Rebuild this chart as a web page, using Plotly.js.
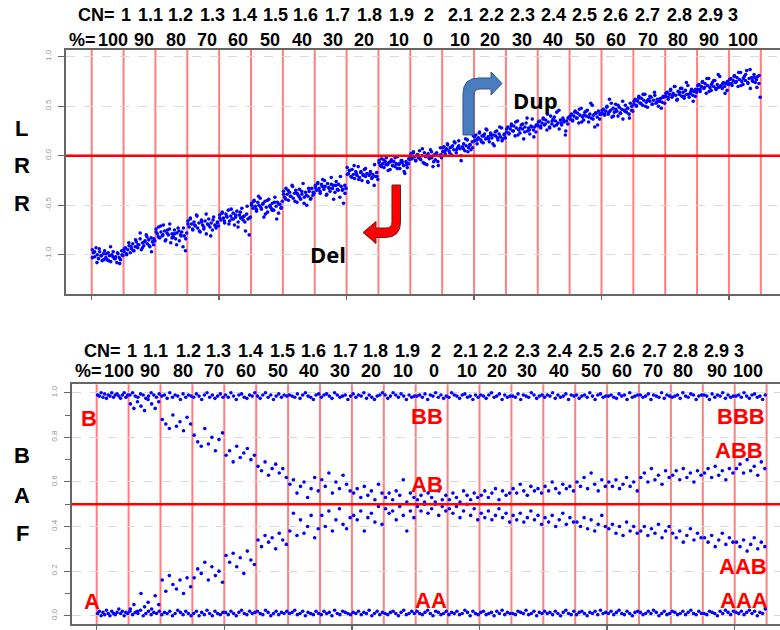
<!DOCTYPE html>
<html><head><meta charset="utf-8">
<script src="https://cdn.plot.ly/plotly-3.0.1.min.js"></script>
<style>body{margin:0;background:#fff}#chart{width:780px;height:630px}</style>
</head><body><div id="chart"></div>
<script>
// ---- labels ----
const cnLabels = ['1','1.1','1.2','1.3','1.4','1.5','1.6','1.7','1.8','1.9','2','2.1','2.2','2.3','2.4','2.5','2.6','2.7','2.8','2.9','3'];
const pctLabels = ['100','90','80','70','60','50','40','30','20','10','0','10','20','30','40','50','60','70','80','90','100'];

// ---- LRR values per copy-number segment (two interleaved probe sets) ----
const lrr = [
[-0.95,-0.98,-1.02,-0.93,-1.00,-1.04,-0.97,-1.01,-1.06,-0.99,-0.96,-1.03,-1.05,-0.98,-1.01,-1.07,-1.00,-0.97,-1.04,-1.02,-1.08,-0.99,-1.03,-1.05,-0.96,-1.01],
[-0.97,-0.93,-1.00,-0.95,-0.91,-0.98,-0.94,-0.89,-0.96,-0.92,-0.87,-0.93,-0.90,-0.84,-0.95,-0.88,-0.91,-0.86,-0.80,-0.89,-0.85,-0.92,-0.83,-0.87,-0.90,-0.86],
[-0.74,-0.79,-0.72,-0.83,-0.77,-0.81,-0.70,-0.76,-0.85,-0.78,-0.80,-0.74,-0.88,-0.79,-0.82,-0.75,-0.84,-0.78,-0.73,-0.86,-0.80,-0.77,-0.92,-0.81,-0.96,-0.78],
[-0.66,-0.72,-0.63,-0.69,-0.75,-0.67,-0.71,-0.60,-0.73,-0.68,-0.77,-0.65,-0.70,-0.74,-0.66,-0.79,-0.69,-0.64,-0.72,-0.68,-0.75,-0.62,-0.70,-0.73,-0.67,-0.71],
[-0.60,-0.65,-0.57,-0.63,-0.68,-0.59,-0.62,-0.55,-0.66,-0.61,-0.64,-0.58,-0.70,-0.62,-0.56,-0.67,-0.60,-0.63,-0.53,-0.65,-0.61,-0.76,-0.59,-0.64,-0.80,-0.62],
[-0.48,-0.53,-0.45,-0.51,-0.56,-0.47,-0.50,-0.43,-0.54,-0.49,-0.62,-0.46,-0.52,-0.57,-0.44,-0.50,-0.53,-0.48,-0.55,-0.42,-0.51,-0.47,-0.58,-0.49,-0.53,-0.46],
[-0.36,-0.42,-0.33,-0.39,-0.45,-0.37,-0.41,-0.30,-0.43,-0.38,-0.35,-0.47,-0.40,-0.34,-0.44,-0.39,-0.28,-0.42,-0.37,-0.50,-0.41,-0.36,-0.44,-0.33,-0.40,-0.38],
[-0.30,-0.35,-0.27,-0.33,-0.38,-0.29,-0.24,-0.34,-0.31,-0.40,-0.28,-0.32,-0.36,-0.22,-0.33,-0.30,-0.37,-0.26,-0.34,-0.29,-0.42,-0.31,-0.35,-0.48,-0.30,-0.33],
[-0.12,-0.18,-0.15,-0.21,-0.14,-0.19,-0.23,-0.16,-0.20,-0.11,-0.22,-0.17,-0.25,-0.19,-0.14,-0.21,-0.18,-0.27,-0.20,-0.16,-0.23,-0.19,-0.30,-0.21,-0.17,-0.24],
[-0.05,-0.10,-0.03,-0.08,-0.12,-0.06,-0.02,-0.09,-0.07,-0.14,-0.04,-0.10,-0.06,-0.11,-0.08,-0.01,-0.09,-0.13,-0.05,-0.07,-0.10,-0.18,-0.06,-0.12,-0.08,-0.04],
[0.02,-0.03,0.04,-0.01,-0.05,0.01,-0.02,0.05,-0.04,0.00,-0.07,0.03,-0.01,-0.09,0.02,-0.03,0.06,-0.02,-0.11,0.01,-0.04,0.03,-0.06,0.00,0.08,-0.02],
[0.04,0.09,0.02,0.07,0.11,0.05,0.08,0.01,0.10,0.06,0.13,0.03,0.08,0.15,0.07,-0.05,0.09,0.12,0.05,0.10,0.16,0.08,0.11,0.06,0.14,0.20],
[0.15,0.21,0.12,0.18,0.24,0.16,0.20,0.13,0.22,0.17,0.26,0.19,0.14,0.23,0.18,0.21,0.10,0.20,0.25,0.16,0.22,0.19,0.28,0.17,0.21,0.18],
[0.24,0.29,0.22,0.27,0.32,0.25,0.30,0.20,0.28,0.35,0.26,0.23,0.31,0.27,0.17,0.29,0.33,0.25,0.28,0.22,0.30,0.37,0.26,0.29,0.24,0.31],
[0.30,0.35,0.28,0.33,0.38,0.31,0.36,0.26,0.34,0.29,0.40,0.32,0.37,0.30,0.35,0.44,0.33,0.27,0.36,0.31,0.38,0.34,0.21,0.35,0.32,0.39],
[0.37,0.42,0.35,0.40,0.45,0.38,0.43,0.33,0.41,0.48,0.39,0.36,0.44,0.40,0.46,0.34,0.42,0.38,0.51,0.41,0.29,0.43,0.39,0.45,0.37,0.42],
[0.43,0.47,0.41,0.45,0.50,0.42,0.57,0.46,0.39,0.48,0.44,0.52,0.45,0.40,0.49,0.43,0.47,0.37,0.46,0.51,0.44,0.48,0.42,0.53,0.46,0.45],
[0.52,0.57,0.50,0.55,0.60,0.53,0.58,0.51,0.56,0.62,0.54,0.49,0.57,0.55,0.59,0.52,0.56,0.61,0.53,0.57,0.50,0.55,0.58,0.54,0.60,0.53],
[0.60,0.64,0.57,0.62,0.67,0.59,0.63,0.70,0.61,0.56,0.65,0.62,0.68,0.60,0.64,0.58,0.66,0.62,0.71,0.59,0.63,0.67,0.61,0.65,0.60,0.64],
[0.67,0.72,0.65,0.70,0.75,0.68,0.73,0.63,0.71,0.78,0.69,0.66,0.74,0.70,0.76,0.67,0.72,0.69,0.80,0.71,0.68,0.74,0.70,0.73,0.66,0.72],
[0.73,0.78,0.71,0.76,0.81,0.74,0.79,0.70,0.77,0.84,0.75,0.72,0.80,0.76,0.86,0.73,0.78,0.68,0.79,0.75,0.82,0.74,0.77,0.80,0.73,0.59]
];
const lrrMore = [
[-1.03,-0.97,-1.08,-0.94,-1.01,-1.05,-0.99,-1.06,-0.92,-1.02,-1.04,-0.98,-1.09,-1.00],
[-0.94,-0.99,-0.88,-0.92,-0.96,-0.85,-0.90,-0.78,-0.93,-0.87,-0.82,-0.91,-0.97,-0.84],
[-0.77,-0.82,-0.71,-0.80,-0.86,-0.75,-0.69,-0.83,-0.79,-0.90,-0.76,-0.81,-0.73,-0.84],
[-0.69,-0.64,-0.74,-0.70,-0.61,-0.76,-0.67,-0.72,-0.59,-0.70,-0.81,-0.65,-0.71,-0.68],
[-0.63,-0.58,-0.66,-0.61,-0.69,-0.54,-0.64,-0.60,-0.72,-0.57,-0.62,-0.67,-0.51,-0.63],
[-0.50,-0.46,-0.54,-0.41,-0.52,-0.48,-0.59,-0.45,-0.51,-0.55,-0.47,-0.64,-0.49,-0.52],
[-0.39,-0.44,-0.35,-0.41,-0.31,-0.46,-0.38,-0.42,-0.36,-0.48,-0.40,-0.33,-0.43,-0.37],
[-0.32,-0.28,-0.36,-0.31,-0.25,-0.39,-0.33,-0.29,-0.44,-0.30,-0.35,-0.21,-0.34,-0.38],
[-0.19,-0.15,-0.22,-0.10,-0.18,-0.24,-0.16,-0.20,-0.13,-0.26,-0.18,-0.22,-0.09,-0.21],
[-0.07,-0.11,-0.04,-0.09,-0.15,-0.06,-0.10,-0.02,-0.13,-0.08,-0.05,-0.16,-0.09,-0.03],
[-0.01,0.03,-0.05,0.01,-0.03,0.07,-0.08,0.00,-0.02,0.04,-0.06,0.02,-0.10,0.01],
[0.08,0.05,0.12,0.03,0.09,0.14,0.06,0.10,0.00,0.07,0.17,0.04,0.11,0.08],
[0.19,0.16,0.23,0.14,0.20,0.27,0.17,0.21,0.12,0.24,0.18,0.29,0.15,0.22],
[0.27,0.23,0.30,0.25,0.34,0.21,0.28,0.32,0.24,0.38,0.26,0.29,0.19,0.31],
[0.34,0.30,0.37,0.32,0.42,0.28,0.35,0.39,0.31,0.46,0.33,0.36,0.25,0.38],
[0.40,0.36,0.44,0.38,0.47,0.34,0.41,0.45,0.39,0.53,0.37,0.43,0.31,0.42],
[0.46,0.42,0.49,0.44,0.53,0.40,0.47,0.51,0.43,0.55,0.45,0.48,0.38,0.50],
[0.55,0.51,0.58,0.53,0.62,0.50,0.56,0.60,0.52,0.64,0.54,0.57,0.48,0.59],
[0.63,0.59,0.66,0.61,0.70,0.57,0.64,0.68,0.60,0.74,0.62,0.65,0.55,0.67],
[0.71,0.67,0.74,0.69,0.78,0.65,0.72,0.76,0.68,0.82,0.70,0.73,0.63,0.75],
[0.77,0.73,0.80,0.75,0.84,0.71,0.78,0.82,0.74,0.87,0.76,0.79,0.69,0.81]
];

// ---- BAF bands per segment ----
const bafTop = [
[.99,.985,1,.98,.995,.975,.99,.985,1,.98,.99,.995,.985,.975,.99,1,.98,.99],
[.99,1,.985,.98,.995,.99,.975,.985,1,.99,.98,.995],
[.985,.99,.975,1,.98,.99,.985,.97,.995,.98,.99,.985],
[.98,.995,.985,.97,.99,1,.98,.99,.975,.985,.995,.98],
[.99,.98,1,.985,.97,.99,.995,.98,.975,.99,.985,1],
[.985,.975,.99,1,.98,.99,.97,.985,.995,.98,.99,.985],
[.99,.985,.98,.995,.975,.99,1,.985,.98,.97,.99,.995],
[.98,.99,.995,.985,.975,1,.99,.98,.985,.99,.97,.985],
[.995,.98,.99,.985,1,.975,.99,.98,.97,.985,.99,1],
[.99,.975,.985,1,.99,.98,.995,.985,.97,.99,.98,.985],
[.985,.99,.98,.995,.97,.99,.985,1,.98,.99,.975,.985],
[.98,1,.99,.985,.975,.99,.995,.98,.985,.97,.99,.98],
[.99,.985,.975,.99,1,.98,.985,.995,.97,.99,.98,.985],
[.985,.98,.995,.97,.99,.985,.98,1,.99,.975,.985,.99],
[.98,.99,.985,1,.975,.99,.98,.985,.995,.97,.99,.985],
[.99,.975,.985,.99,.98,1,.985,.97,.99,.995,.98,.985],
[.985,.99,.98,.975,.995,.985,.99,.97,1,.98,.985,.99],
[.99,.98,.985,.995,.97,.99,.985,.98,1,.975,.99,.985],
[.98,.985,.99,.975,1,.985,.98,.995,.99,.97,.985,.99],
[.99,.985,.97,.995,.98,.99,.985,1,.975,.99,.98,.985],
[.985,.99,.98,1,.985,.975,.99,.995,.98,.985,.97,.99]
];
const bafHigh = [
[],
[.95,.93,.96,.94,.92,.97,.95,.93,.96],
[.88,.86,.84,.90,.85,.87,.83,.89,.86],
[.81,.78,.76,.84,.77,.80,.74,.79,.82],
[.72,.74,.69,.76,.71,.73,.75,.70,.72],
[.67,.65,.69,.63,.66,.68,.64,.66,.62],
[.59,.61,.55,.58,.60,.53,.57,.62,.56],
[.61,.58,.64,.55,.60,.57,.63,.59,.56],
[.55,.57,.53,.58,.54,.56,.52,.59,.55],
[.53,.55,.52,.56,.54,.61,.51,.55,.53],
[.52,.54,.51,.55,.53,.50,.56,.52,.54],
[.52,.55,.53,.51,.56,.54,.52,.55,.53],
[.54,.56,.53,.55,.57,.52,.56,.54,.55],
[.57,.55,.59,.56,.54,.58,.56,.57,.55],
[.58,.56,.60,.57,.55,.59,.57,.58,.56],
[.60,.58,.62,.57,.64,.59,.56,.61,.58],
[.60,.58,.61,.57,.59,.62,.58,.60,.56],
[.62,.64,.60,.66,.61,.63,.59,.65,.62],
[.63,.65,.61,.66,.62,.64,.60,.65,.63],
[.64,.66,.62,.67,.63,.65,.61,.66,.64],
[.66,.68,.64,.70,.65,.67,.63,.69,.66]
];
const bafLow = [
[],
[.03,.05,.02,.10,.04,.06,.03,.09,.05],
[.16,.11,.18,.14,.12,.16,.10,.17,.13],
[.17,.21,.19,.24,.16,.22,.18,.20,.15],
[.27,.24,.28,.22,.26,.19,.29,.25,.23],
[.34,.31,.36,.33,.35,.30,.37,.34,.32],
[.38,.46,.36,.43,.37,.40,.45,.35,.39],
[.45,.40,.47,.38,.43,.48,.41,.39,.44],
[.45,.43,.47,.38,.44,.46,.42,.49,.41],
[.48,.46,.47,.43,.49,.45,.38,.47,.44],
[.49,.47,.50,.46,.48,.51,.45,.49,.47],
[.48,.46,.49,.44,.47,.50,.45,.48,.43],
[.46,.44,.47,.43,.45,.48,.44,.46,.42],
[.45,.43,.46,.42,.44,.47,.43,.45,.41],
[.44,.42,.45,.40,.43,.46,.41,.44,.42],
[.42,.40,.44,.39,.43,.38,.41,.45,.40],
[.39,.41,.37,.40,.36,.42,.38,.40,.37],
[.38,.40,.36,.39,.37,.41,.35,.38,.40],
[.37,.35,.38,.33,.36,.39,.34,.37,.35],
[.35,.33,.36,.31,.34,.37,.32,.35,.33],
[.33,.31,.34,.29,.32,.35,.30,.33,.31]
];
const bafBottom = [
[.01,.02,0,.015,.005,.025,.01,0,.02,.01,.005,.015,.03,.01,.02,0,.015,.01],
[.02,.005,.015,.01,.025,0,.01,.02,.005,.015,.01,.02],
[.005,.015,.01,.02,0,.01,.025,.015,.005,.02,.01,0],
[.01,.02,0,.015,.005,.025,.01,0,.02,.01,.005,.015],
[.015,.005,.02,.01,0,.015,.025,.01,.005,.02,.01,.015],
[.02,.01,.005,.025,.015,0,.01,.02,.005,.015,.01,.02],
[.01,.015,.025,.005,.01,.02,0,.015,.01,.005,.02,.01],
[.005,.02,.01,.015,0,.025,.01,.005,.02,.015,.01,.005],
[.015,.01,.02,.005,.015,.01,.025,0,.01,.02,.005,.015],
[.01,.005,.015,.02,.01,0,.015,.025,.005,.01,.02,.01],
[.02,.01,.005,.015,.025,.01,0,.02,.015,.005,.01,.02],
[.005,.015,.01,.02,.005,.01,.025,.015,0,.02,.01,.005],
[.015,.02,.005,.01,.015,0,.02,.01,.025,.005,.015,.01],
[.01,.005,.02,.015,.01,.025,.005,.01,.02,0,.015,.01],
[.02,.01,.015,.005,.02,.01,0,.015,.025,.01,.005,.02],
[.005,.015,.02,.01,0,.015,.01,.02,.005,.025,.01,.015],
[.01,.02,.005,.015,.025,.01,.005,.02,.01,0,.015,.02],
[.015,.005,.01,.02,.01,.025,.015,0,.01,.02,.005,.01],
[.02,.015,.005,.01,.02,.005,.015,.025,.01,.005,.02,.01],
[.01,.005,.02,.015,.01,0,.02,.01,.025,.015,.005,.02],
[.015,.01,.02,.005,.015,.025,.01,.02,0,.015,.01,.03]
];

// ---- geometry helpers (pixels -> paper) ----
const W = 780, H = 630, ML = 66, MR = 0, MT = 50, MB = 6;
const PW = W - ML - MR, PH = H - MT - MB;
const px = x => (x - ML) / PW;
const py = y => (H - MB - y) / PH;

// header label pixel centres (layout only)
const cnPosTop = [125.8,150.8,180.8,212.5,244.2,275.8,305.8,337.5,369.2,401.7,429,460.8,491.7,522.5,553.3,584,615.8,647.5,679.2,710,733.3];
const pctPosTop = [112.5,144.2,175.8,206.7,238.3,270,301.7,333,363.7,399,428.3,460,490,521.7,553.3,585,615.8,647.5,678.3,709.2,743.3];
const cnPosBot = [131.7,155.8,188.3,218.3,250.8,282.5,313.3,345,375.8,407.5,436,465,495.8,527.5,559,590.8,622.5,654,685.8,716.7,739.2];
const pctPosBot = [118.5,150,182.5,214.2,245.8,277.5,309.2,340,370.8,403.3,434,466.7,496.7,526.7,559.2,590.8,621.5,652.5,683.3,716.7,748.3];

// place each segment's points along its own probe index
function spread(rows, shift) {
  const xs = [], ys = [];
  rows.forEach((r, k) => r.forEach((v, j) => { xs.push(k + (j + (shift || 0.5)) / r.length); ys.push(v); }));
  return [xs, ys];
}
const l1 = spread(lrr), l2 = spread(lrrMore, 0.3);
const lx = l1[0].concat(l2[0]), ly = l1[1].concat(l2[1]);
const bands = [bafTop, bafHigh, bafLow, bafBottom].map(r => spread(r));
const bx = [].concat(...bands.map(b => b[0]));
const by = [].concat(...bands.map(b => b[1]));

const dot = {color: '#0000ff', size: 3.6};
const traces = [
  {type: 'scatter', mode: 'markers', x: lx, y: ly, xaxis: 'x', yaxis: 'y', marker: dot, hoverinfo: 'skip'},
  {type: 'scatter', mode: 'markers', x: bx, y: by, xaxis: 'x2', yaxis: 'y2', marker: dot, hoverinfo: 'skip'}
];

const nSeg = cnLabels.length;
const shapes = [];
for (let k = 0; k <= nSeg; k++) {
  shapes.push({type: 'line', xref: 'x', yref: 'y domain', x0: k, x1: k, y0: 0, y1: 1, layer: 'below',
    line: {color: 'rgba(255,0,0,0.5)', width: 2}});
  shapes.push({type: 'line', xref: 'x2', yref: 'y2 domain', x0: k, x1: k, y0: 0, y1: 1, layer: 'below',
    line: {color: 'rgba(255,0,0,0.5)', width: 2}});
}
shapes.push({type: 'line', xref: 'x domain', yref: 'y', x0: 0, x1: 1, y0: 0, y1: 0, layer: 'above', line: {color: '#ff0000', width: 2.5}});
shapes.push({type: 'line', xref: 'x2 domain', yref: 'y2', x0: 0, x1: 1, y0: 0.5, y1: 0.5, layer: 'above', line: {color: '#ff0000', width: 2.5}});

function P(cmds) {
  return cmds.map(c => typeof c === 'string' ? c : px(c[0]).toFixed(5) + ',' + py(c[1]).toFixed(5)).join(' ');
}
// Dup bent arrow
shapes.push({type: 'path', xref: 'paper', yref: 'paper', layer: 'above',
  path: P(['M', [463, 135], 'L', [463, 94], 'Q', [463, 78], [479, 78], 'L', [491, 78], 'L', [491, 72], 'L', [502, 83.5],
           'L', [491, 95], 'L', [491, 89], 'L', [480, 89], 'Q', [474, 89], [474, 95], 'L', [474, 135], 'Z']),
  fillcolor: '#4a7cc0', line: {color: '#2f528f', width: 1}});
// Del bent arrow
shapes.push({type: 'path', xref: 'paper', yref: 'paper', layer: 'above',
  path: P(['M', [392, 185], 'L', [400.5, 185], 'L', [400.5, 222], 'Q', [400.5, 237.5], [385, 237.5], 'L', [376, 237.5], 'L', [376, 243.5],
           'L', [363, 232.5], 'L', [376, 221.5], 'L', [376, 228], 'L', [386, 228], 'Q', [392, 228], [392, 222], 'Z']),
  fillcolor: '#ff0000', line: {color: '#6b2020', width: 1}});

const FONT = 'Liberation Sans, Arial, sans-serif';
const ann = [];
function T(text, x, y, size, color, xanchor) {
  ann.push({text: text, x: px(x), y: py(y), xref: 'paper', yref: 'paper', showarrow: false,
    xanchor: xanchor || 'center', yanchor: 'middle',
    font: {family: FONT, size: size, color: color || '#000', weight: 'bold'}});
}
// header rows
T('CN=', 117, 15, 18, '#000', 'right');
T('%=', 97.5, 40, 18, '#000', 'right');
T('CN=', 123, 351, 18, '#000', 'right');
T('%=', 103.5, 371, 18, '#000', 'right');
cnLabels.forEach((s, i) => { T(s, cnPosTop[i], 15, 18); T(s, cnPosBot[i], 351, 18); });
pctLabels.forEach((s, i) => { T(s, pctPosTop[i], 40, 18); T(s, pctPosBot[i], 371, 18); });
// side letters
T('L', 21, 128, 22); T('R', 22, 165, 22); T('R', 22, 203, 22);
T('B', 22, 455, 22); T('A', 22, 495, 22); T('F', 22, 533, 22);
// genotype labels
const RED = '#ff0000';
T('B', 89, 418, 22, RED); T('A', 91.5, 601, 22, RED);
T('BB', 426.7, 416.7, 22, RED); T('AB', 426.7, 484, 22, RED); T('AA', 430.5, 600, 22, RED);
T('BBB', 741, 416.7, 22, RED); T('ABB', 739, 450, 22, RED); T('AAB', 743, 566.7, 22, RED); T('AAA', 744, 600, 22, RED);
// arrow labels
ann.push({text: 'Dup', x: px(535), y: py(83), xref: 'paper', yref: 'paper', showarrow: false,
  font: {family: 'Open Sans, sans-serif', size: 22, color: '#000', weight: 'bold'}});
ann.push({text: 'Del', x: px(328), y: py(237), xref: 'paper', yref: 'paper', showarrow: false,
  font: {family: 'Open Sans, sans-serif', size: 22, color: '#000', weight: 'bold'}});

const xCommon = {showline: true, linecolor: '#666', linewidth: 2, mirror: true, ticks: 'outside', ticklen: 4,
  tickcolor: '#666', tickwidth: 1.5, tickvals: [0, 4, 8, 12, 16, 20], showticklabels: false, showgrid: false, zeroline: false};
const yCommon = {showline: true, linecolor: '#666', linewidth: 2, ticks: 'outside', ticklen: 6, tickcolor: '#666',
  tickwidth: 1, tickangle: -90, tickfont: {family: FONT, size: 8, color: '#999'}, showgrid: true,
  gridcolor: '#dadada', griddash: 'dash', gridwidth: 1, zeroline: false, ticklabelstandoff: 4};

const layout = {
  width: W, height: H, margin: {l: ML, r: MR, t: MT, b: MB}, showlegend: false,
  paper_bgcolor: '#fff', plot_bgcolor: '#fff',
  xaxis: Object.assign({}, xCommon, {domain: [0, 1], range: [-0.807, 21.603], anchor: 'y'}),
  yaxis: Object.assign({}, yCommon, {domain: [py(294), 1], range: [-1.397, 1.068], anchor: 'x',
    tickvals: [-1, -0.5, 0, 0.5, 1], ticktext: ['-1.0', '-0.5', '0.0', '0.5', '1.0']}),
  xaxis2: Object.assign({}, xCommon, {domain: [px(72), 1], range: [-0.774, 21.42], anchor: 'y2'}),
  yaxis2: Object.assign({}, yCommon, {domain: [0, py(384.3)], range: [-0.037, 1.038], anchor: 'x2',
    tickvals: [0, 0.2, 0.4, 0.6, 0.8, 1], ticktext: ['0.0', '0.2', '0.4', '0.6', '0.8', '1.0'],
    minor: {dtick: 0.1, ticks: 'outside', ticklen: 5, tickcolor: '#666', showgrid: false}}),
  shapes: shapes, annotations: ann
};
Plotly.newPlot('chart', traces, layout, {staticPlot: true, displayModeBar: false});
</script></body></html>
